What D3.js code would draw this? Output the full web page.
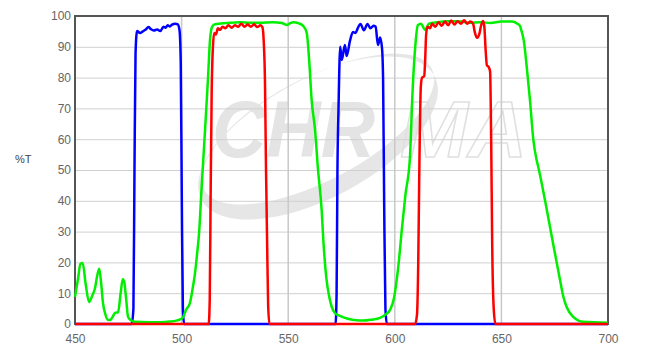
<!DOCTYPE html>
<html>
<head>
<meta charset="utf-8">
<script src="https://cdn.jsdelivr.net/npm/d3@7"></script>
<style>
  body { margin: 0; background: #fff; }
  svg { display: block; }
</style>
</head>
<body>
<svg id="chart"></svg>
<script>
// Transmission curves (wavelength nm, %T)
var blueData = [
    [450, 0], [476.6, 0], [477.4, 5], [477.9, 50], [478.4, 88], [479.1, 95.1], [480.5, 94.5],
    [481.8, 95], [483, 95.5], [484.5, 96.4], [485.5, 95.8], [487, 95.3], [488.5, 95.6], [490, 95.1],
    [491.5, 96.5], [492.5, 96.2], [493.5, 97], [494.5, 96.6], [495.5, 97.2], [497, 97.5], [498.2, 97.3],
    [499, 95.5], [499.6, 85], [500.1, 40], [500.6, 5], [501.2, 0],
    [572.2, 0], [572.7, 10], [573.1, 50], [573.6, 70], [574.4, 90], [575.1, 85.7], [576.6, 90.6],
    [577.4, 87], [579, 92], [580.4, 94.8], [581.6, 94.5], [582.6, 96], [583.9, 97.4], [585.5, 95.4],
    [587.2, 97.4], [588.6, 96], [590, 96.8], [591, 96.5], [592.1, 90.6], [593.1, 93], [594, 89.6],
    [594.5, 80], [595, 40], [595.6, 5], [596.3, 0], [700, 0]
];

var greenData = [
    [450, 8.8], [451.5, 15], [452.5, 19.5], [453.6, 19.8], [455, 13], [456.6, 7.1], [458, 9],
    [459.4, 11.7], [460.5, 16], [461.4, 17.9], [462.3, 13], [463.1, 7], [464.3, 3], [465.5, 1.3],
    [466.5, 1.3], [467.4, 2], [468.8, 3.6], [470.2, 3.8], [471.4, 10], [472.4, 14.5], [473, 14],
    [473.9, 8.8], [474.9, 2.3], [476.7, 1], [478, 0.7], [485, 0.6], [490, 0.6], [494.6, 0.8],
    [497.5, 1.1], [499, 1.4], [500.7, 2.2], [502, 4.5], [503.9, 6.8], [505.3, 12], [506.3, 16.5],
    [507.3, 23], [508.3, 30.5], [509.2, 42], [511, 63], [512.4, 80], [513.3, 92], [514.3, 96.5],
    [515.7, 97.3], [521.2, 97.7], [527.4, 98], [532, 97.8], [536.8, 97.8], [542.9, 98], [547, 97.7],
    [549.3, 97.1], [551, 97.7], [552.3, 98], [555, 97.6], [557, 96.8], [558.7, 94.5], [559.8, 86],
    [561, 72.7], [562.6, 63], [564, 50], [565.7, 37], [566.5, 27], [568, 14.3], [569.2, 9],
    [570.4, 5.6], [572, 3.5], [574.3, 2.6], [578, 1.7], [582, 1.2], [585.1, 1.1], [589, 1.4],
    [593.1, 2], [595.5, 3], [597.7, 4.5], [599.5, 8], [600.9, 14.3], [602, 21], [603.2, 30],
    [605, 42], [607.1, 54], [608.3, 75], [609.7, 91], [610.8, 97], [612.3, 97.5], [614.2, 95.5],
    [616, 97.5], [620, 98], [625, 98.3], [630, 98.3], [635, 97.8], [640, 98], [645, 97.7],
    [650, 98.2], [655, 98.2], [657.5, 97.5], [658.7, 96.8], [659.5, 95], [660.5, 92], [661.9, 83.4],
    [663.4, 72.7], [665, 59.7], [666.6, 53], [667.3, 51], [670.5, 40], [672.8, 31.5], [675.1, 23],
    [677.5, 14.3], [679, 9], [680.6, 5.5], [683.7, 2.3], [688.4, 0.7], [700, 0.4]
];

var redData = [
    [450, 0], [512.7, 0], [513.2, 8], [513.6, 40], [514.1, 75], [514.7, 90], [515.3, 94.5],
    [516.1, 94], [517, 96], [518, 95.5], [519.2, 96.5], [520.5, 96], [522, 97], [523.5, 96.2],
    [525, 97], [526.5, 96.5], [528, 97.5], [529.5, 96.5], [531, 97.2], [532.5, 96.5], [534, 97.3],
    [535.5, 96.4], [537, 97], [537.9, 96.4], [538.5, 92], [539.1, 79], [539.6, 50], [540.1, 27],
    [540.6, 6], [541.2, 0],
    [609.5, 0], [610.4, 3], [611, 20], [611.5, 50], [612.2, 77], [612.8, 80], [613.8, 80.5],
    [614.2, 85], [614.7, 94], [615.3, 96.5], [616.5, 96], [617.5, 97.5], [619, 96.5], [620.5, 98],
    [622, 96.8], [623.5, 98.2], [625, 97], [626.5, 98.5], [628, 97.2], [629.5, 98.3], [631, 97.5],
    [632.5, 98.6], [634, 97.5], [635.5, 98.2], [636.7, 97.5], [637.6, 94.5], [638.6, 92.9],
    [639.6, 94], [640.5, 97], [641.4, 98.4], [642, 96.5], [642.6, 89], [643.2, 84], [644, 83.5],
    [644.7, 82], [645.2, 60], [645.7, 25], [646.4, 5], [647.2, 0], [700, 0]
];

var xTicks = [450, 500, 550, 600, 650, 700];
var yTicks = [0, 10, 20, 30, 40, 50, 60, 70, 80, 90, 100];

// Set up the SVG container
var margin = { top: 16, right: 44, bottom: 30, left: 75 };
var width = 533;
var height = 308;

var root = d3.select("#chart")
    .attr("width", 652)
    .attr("height", 354);

var svg = root.append("g")
    .attr("transform", "translate(" + margin.left + "," + margin.top + ")");

// Scales
var xScale = d3.scaleLinear().domain([450, 700]).range([0, width]);
var yScale = d3.scaleLinear().domain([0, 100]).range([height, 0]);

// Watermark (behind the grid)
var wm = svg.append("g").attr("transform", "translate(-75,-16)");

function ellipsePath(cx, cy, rx, ry) {
    return "M" + (cx - rx) + "," + cy +
        "a" + rx + "," + ry + " 0 1,0 " + (2 * rx) + ",0" +
        "a" + rx + "," + ry + " 0 1,0 " + (-2 * rx) + ",0Z";
}
wm.append("path")
    .attr("d", ellipsePath(0, 0, 132, 60) + ellipsePath(4, -8, 129, 51))
    .attr("fill-rule", "evenodd")
    .attr("fill", "#e6e6e6")
    .attr("transform", "translate(318,138) rotate(-28)");

wm.append("text")
    .attr("x", 212).attr("y", 157)
    .attr("textLength", 163)
    .attr("lengthAdjust", "spacingAndGlyphs")
    .style("font-family", "'Liberation Sans', Arial, sans-serif")
    .style("font-weight", "bold")
    .style("font-style", "italic")
    .style("font-size", "80px")
    .attr("fill", "#e4e4e4")
    .text("CHR");

wm.append("text")
    .attr("x", 400).attr("y", 157)
    .attr("textLength", 127)
    .attr("lengthAdjust", "spacingAndGlyphs")
    .style("font-family", "'Liberation Sans', Arial, sans-serif")
    .style("font-weight", "bold")
    .style("font-style", "italic")
    .style("font-size", "80px")
    .attr("fill", "none")
    .attr("stroke", "#e0e0e0")
    .attr("stroke-width", 1.5)
    .text("MA");

// Grid lines
svg.append("g")
    .selectAll("line")
    .data(yTicks.slice(1, -1))
    .enter().append("line")
    .attr("x1", 0).attr("x2", width)
    .attr("y1", function(d) { return yScale(d) + 0.5; })
    .attr("y2", function(d) { return yScale(d) + 0.5; })
    .attr("stroke", "#d0d0d0")
    .attr("stroke-width", 1);

svg.append("g")
    .selectAll("line")
    .data(xTicks.slice(1, -1))
    .enter().append("line")
    .attr("x1", function(d) { return xScale(d); })
    .attr("x2", function(d) { return xScale(d); })
    .attr("y1", 0).attr("y2", height)
    .attr("stroke", "#c8c8c8")
    .attr("stroke-width", 1.5);

// Frame
svg.append("rect")
    .attr("x", 0).attr("y", 0)
    .attr("width", width).attr("height", height)
    .attr("fill", "none")
    .attr("stroke", "#555")
    .attr("stroke-width", 2);

// Axes (labels only)
svg.append("g")
    .attr("transform", "translate(0," + height + ")")
    .call(d3.axisBottom(xScale).tickValues(xTicks).tickSize(0).tickPadding(10).tickFormat(d3.format("d")));

svg.append("g")
    .call(d3.axisLeft(yScale).tickValues(yTicks).tickSize(0).tickPadding(4).tickFormat(d3.format("d")));

svg.selectAll(".domain").remove();
svg.selectAll(".tick text")
    .style("font-family", "'Liberation Sans', Arial, sans-serif")
    .style("font-size", "12px")
    .attr("fill", "#666");

// y axis label
root.append("text")
    .attr("x", 15).attr("y", 163)
    .style("font-family", "'Liberation Sans', Arial, sans-serif")
    .style("font-size", "11px")
    .attr("fill", "#444")
    .text("%T");

// Define the line
var line = d3.line()
    .x(function(d) { return xScale(d[0]); })
    .y(function(d) { return yScale(d[1]); })
    .curve(d3.curveMonotoneX);

// Curves: blue, green, then red on top
var series = [
    { data: blueData, color: "#0000ff" },
    { data: greenData, color: "#00ee00" },
    { data: redData, color: "#ff0000" }
];

series.forEach(function(s) {
    svg.append("path")
        .datum(s.data)
        .attr("d", line)
        .attr("fill", "none")
        .attr("stroke", s.color)
        .attr("stroke-width", 2.5)
        .attr("stroke-linejoin", "round");
});
</script>
</body>
</html>
